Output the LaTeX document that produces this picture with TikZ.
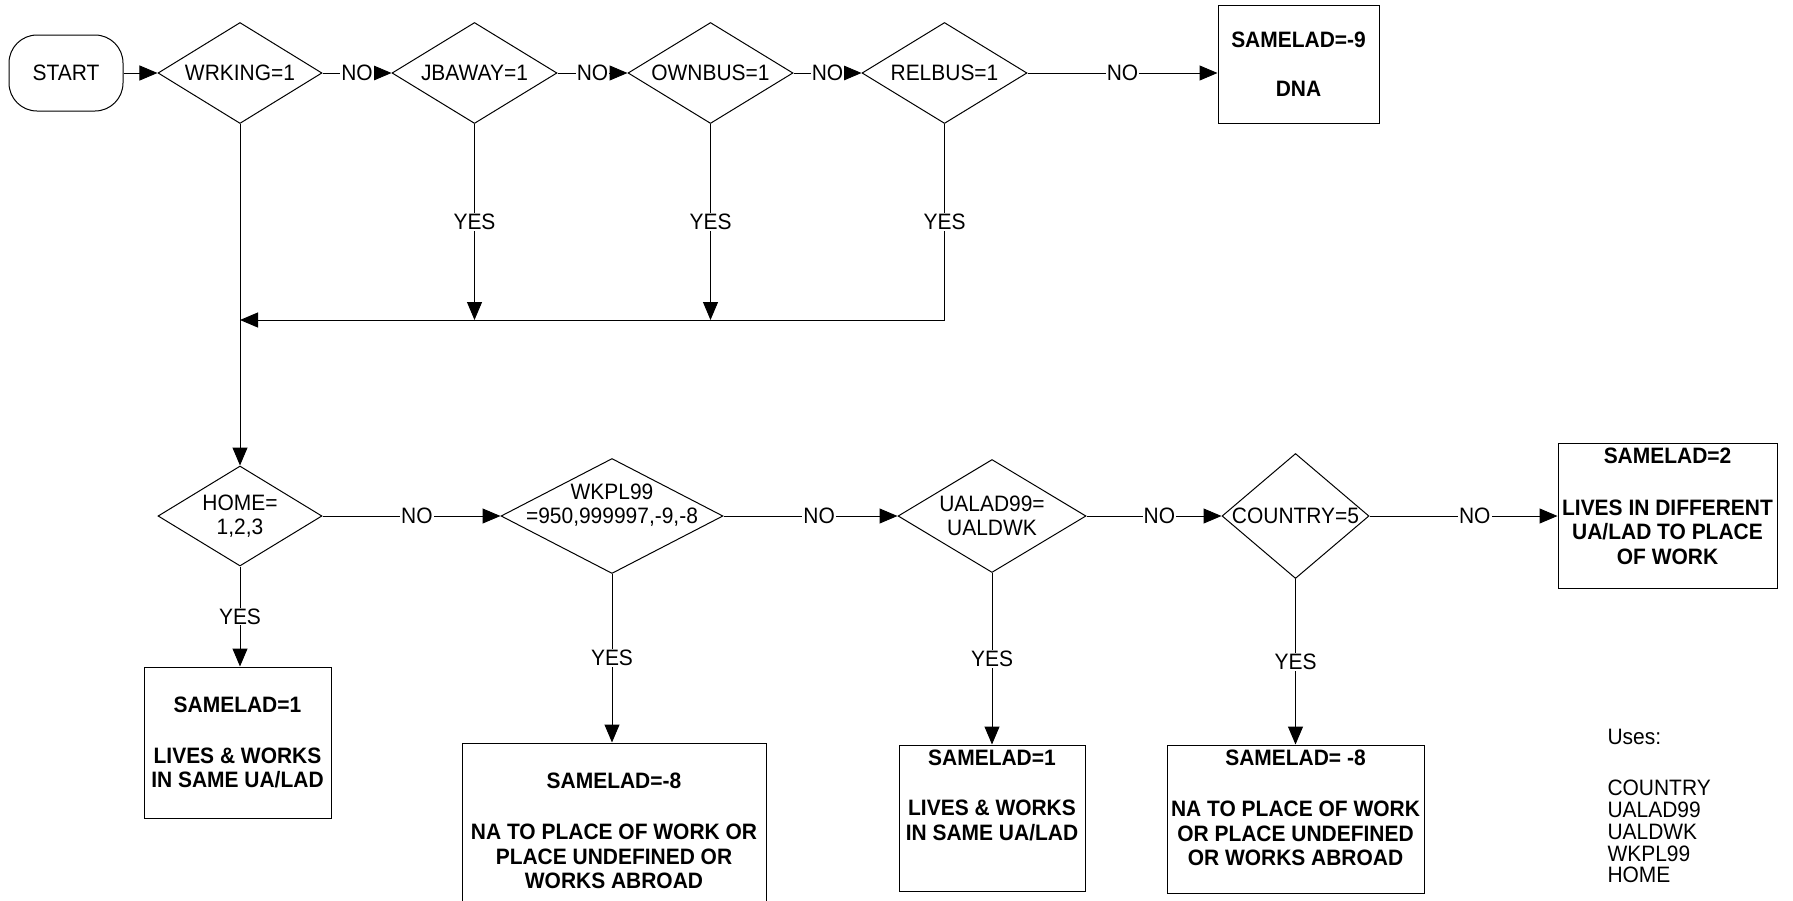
\documentclass[tikz,border=0pt]{standalone}
\usepackage{fontspec}
\setmainfont[FakeStretch=0.94]{Liberation Sans}
\usetikzlibrary{arrows.meta,shapes.geometric,positioning}
\newcommand{\zw}[1]{\makebox[0pt]{#1}}

\begin{document}
\begin{tikzpicture}[x=1pt,y=-1pt,>={Triangle[length=18pt,width=15pt]},line width=1pt,
 font=\fontsize{22.3}{24.5}\selectfont,
 dec/.style={draw,diamond,inner sep=0pt,align=center},
 box/.style={draw,rectangle,inner sep=0pt,align=center,font=\fontsize{22.3}{24.5}\selectfont\bfseries},
 boxtext/.style={inner sep=0pt,align=center,font=\fontsize{22.3}{24.5}\selectfont\bfseries},
 lbl/.style={fill=white,inner sep=1pt}]
\fill[white] (0,0) rectangle (1793,900);
\useasboundingbox (0,0) rectangle (1793,900);
\node[draw,rounded corners=28pt,minimum width=114,minimum height=76] (start) at (66,73) {START};
\node[dec,minimum width=164,minimum height=101] (wrking) at (240,73) {\zw{WRKING=1}};
\node[dec,minimum width=165,minimum height=101] (jbaway) at (474.5,73) {\zw{JBAWAY=1}};
\node[dec,minimum width=165,minimum height=101] (ownbus) at (710.5,73) {\zw{OWNBUS=1}};
\node[dec,minimum width=165,minimum height=101] (relbus) at (944.5,73) {\zw{RELBUS=1}};
\node[box,minimum width=161,minimum height=118] (dna) at (1298.5,64) {SAMELAD=-9\\[25pt]DNA};
\coordinate (merge) at (240,320);

\node[dec,minimum width=164,minimum height=100] (home) at (240,516) {\zw{HOME=}\\\zw{1,2,3}};
\node[dec,minimum width=222,minimum height=115] (wkpl) at (612,516) {\zw{WKPL99}\\\zw{=950,999997,-9,-8}\\\zw{}};
\node[dec,minimum width=188,minimum height=113] (ualad) at (992,516) {\zw{UALAD99=}\\\zw{UALDWK}};
\node[dec,minimum width=147,minimum height=125] (country) at (1295.5,516) {\zw{COUNTRY=5}};
\node[draw,minimum width=219,minimum height=145] (diff) at (1667.5,515.5) {};
\node[boxtext,below=4.5pt of diff.north] (difftext) {SAMELAD=2\\[27.5pt]LIVES IN DIFFERENT\\UA/LAD TO PLACE\\OF WORK};

\node[box,minimum width=187,minimum height=151] (same1) at (237.5,742.5) {SAMELAD=1\\[26.5pt]LIVES \& WORKS\\IN SAME UA/LAD};
\node[box,minimum width=304,minimum height=176] (na1) at (614,831) {SAMELAD=-8\\[26.5pt]NA TO PLACE OF WORK OR\\PLACE UNDEFINED OR\\WORKS ABROAD};
\node[draw,minimum width=186,minimum height=146] (same2) at (992,818) {};
\node[boxtext,below=5pt of same2.north] (same2text) {SAMELAD=1\\[25.5pt]LIVES \& WORKS\\IN SAME UA/LAD};
\node[draw,minimum width=257,minimum height=148] (na2) at (1295.5,819) {};
\node[boxtext,below=5pt of na2.north] (na2text) {SAMELAD= -8\\[26.5pt]NA TO PLACE OF WORK\\OR PLACE UNDEFINED\\OR WORKS ABROAD};
\node[anchor=north west,inner sep=0pt,align=left,font=\fontsize{22.3}{21.75}\selectfont] (uses) at (1607,729)
 {Uses:\\[29.25pt]COUNTRY\\UALAD99\\UALDWK\\WKPL99\\HOME};

\draw[->] (start) -- (wrking);
\draw[->] (wrking) -- node[lbl]{NO} (jbaway);
\draw[->] (jbaway) -- node[lbl]{NO} (ownbus);
\draw[->] (ownbus) -- node[lbl]{NO} (relbus);
\draw[->] (relbus.east) -- node[lbl]{NO} (relbus.east -| dna.west);
\draw[->] (wrking.south) -- (home.north);
\draw[->] (jbaway.south) -- node[lbl]{YES} (jbaway.south |- merge);
\draw[->] (ownbus.south) -- node[lbl]{YES} (ownbus.south |- merge);
\draw[->] (relbus.south) |- node[lbl,pos=0.25]{YES} (merge);

\draw[->] (home) -- node[lbl,pos=0.53]{NO} (wkpl);
\draw[->] (wkpl) -- node[lbl,pos=0.55]{NO} (ualad);
\draw[->] (ualad) -- node[lbl,pos=0.54]{NO} (country);
\draw[->] (country.east) -- node[lbl,pos=0.56]{NO} (country.east -| diff.west);
\draw[->] (home.south) -- node[lbl]{YES} (home.south |- same1.north);
\draw[->] (wkpl.south) -- node[lbl]{YES} (wkpl.south |- na1.north);
\draw[->] (ualad.south) -- node[lbl]{YES} (ualad.south |- same2.north);
\draw[->] (country.south) -- node[lbl]{YES} (country.south |- na2.north);
\end{tikzpicture}
\end{document}
